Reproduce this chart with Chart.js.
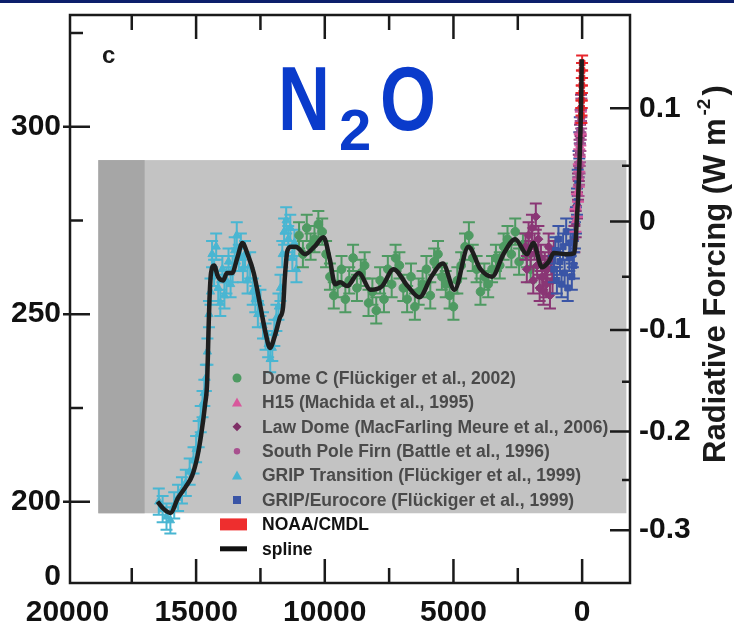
<!DOCTYPE html>
<html>
<head>
<meta charset="utf-8">
<script src="https://cdn.jsdelivr.net/npm/chart.js@4.4.0/dist/chart.umd.min.js"></script>
<style>
    html, body { margin: 0; padding: 0; background: #fff; }
    #wrap { width: 734px; height: 626px; }
</style>
</head>
<body>
<div id="wrap"><canvas id="n2oChart" width="734" height="626"></canvas></div>
<script>
// Years before present (x) and N2O in ppb (y)
const gripYears = [16450, 16300, 16150, 16000, 15850, 15700, 15550, 15400, 15250, 15100, 15000, 14900, 14820, 14750, 14680, 14620, 14560, 14500, 14440, 14380, 14300, 14220, 14140, 14060, 13980, 13900, 13820, 13740, 13660, 13580, 13500, 13420, 13340, 13260, 13180, 13100, 13000, 12900, 12800, 12700, 12600, 12500, 12400, 12300, 12200, 12120, 12040, 11960, 11880, 11800, 11720, 11650, 11580, 11500, 11420, 11340, 11260, 11180, 11100];
const gripPpb = [200, 198, 196, 195, 199, 201, 203, 205, 208, 211, 214, 218, 222, 226, 229, 233, 240, 250, 256, 266, 261, 268, 257, 253, 262, 255, 259, 264, 258, 262, 267, 271, 265, 268, 262, 266, 259, 263, 256, 254, 250, 253, 247, 244, 242, 238, 241, 245, 249, 252, 257, 266, 272, 275, 270, 273, 265, 269, 262];

const domeCYears = [11000, 10850, 10700, 10550, 10400, 10250, 10100, 9950, 9800, 9650, 9500, 9350, 9200, 9050, 8900, 8750, 8600, 8450, 8300, 8150, 8000, 7850, 7700, 7550, 7400, 7250, 7100, 6950, 6800, 6650, 6500, 6350, 6200, 6050, 5900, 5750, 5600, 5450, 5300, 5150, 5000, 4850, 4700, 4550, 4400, 4250, 4100, 3950, 3800, 3650, 3500, 3350, 3200, 3050, 2900, 2750, 2600, 2450, 2300, 2150, 2000];
const domeCPpb = [271, 266, 273, 268, 270, 274, 272, 266, 260, 255, 258, 262, 254, 259, 265, 257, 261, 263, 253, 256, 251, 259, 254, 262, 258, 265, 263, 257, 254, 260, 252, 256, 258, 262, 255, 264, 266, 260, 258, 255, 252, 259, 263, 268, 271, 265, 262, 256, 260, 258, 262, 265, 263, 268, 270, 266, 272, 264, 268, 266, 262];

const lawDomeYears = [2200, 2150, 2080, 2000, 1950, 1900, 1850, 1800, 1750, 1700, 1650, 1600, 1550, 1500, 1450, 1400, 1350, 1300, 1250, 1200, 1150, 1100, 300, 250, 200, 160, 130, 100, 80, 60, 45];
const lawDomePpb = [268, 262, 271, 266, 273, 259, 268, 276, 263, 270, 257, 265, 260, 256, 263, 258, 262, 268, 255, 264, 259, 266, 270, 274, 279, 284, 289, 293, 297, 301, 305];

const southPoleYears = [140, 120, 100, 85, 70, 55, 40, 30];
const southPolePpb = [284, 287, 290, 293, 296, 299, 302, 305];

const h15Years = [260, 200, 160, 130, 110, 90, 70, 50];
const h15Ppb = [275, 279, 283, 287, 291, 295, 298, 301];

const eurocoreYears = [1100, 1040, 980, 920, 860, 800, 740, 680, 620, 560, 500, 450, 400, 360, 320, 280, 240, 200, 170, 140, 110, 90];
const eurocorePpb = [262, 267, 259, 270, 264, 258, 268, 261, 272, 257, 265, 269, 260, 266, 263, 271, 275, 280, 285, 290, 295, 299];

const noaaYears = [28, 24, 20, 16, 12, 8, 4, 0];
const noaaPpb = [303, 305, 307, 309, 311, 313, 315, 317];

const splineYears = [16500, 16250, 16000, 15700, 15400, 15150, 14950, 14800, 14650, 14570, 14520, 14480, 14420, 14300, 14150, 13950, 13800, 13600, 13400, 13200, 13000, 12760, 12500, 12300, 12130, 11950, 11750, 11620, 11550, 11450, 11300, 11120, 10770, 10400, 10050, 9800, 9600, 9400, 9130, 8680, 8220, 7770, 7330, 6780, 6320, 5860, 5410, 4960, 4420, 3950, 3500, 3060, 2600, 2140, 1900, 1560, 1300, 1100, 600, 300, 250, 200, 150, 100, 60, 30, 15];
const splinePpb = [200, 198, 197, 201, 204, 207, 212, 218, 226, 232, 245, 254, 261, 263, 260, 259, 261, 261, 265, 269, 266, 261, 252, 245, 241, 244, 249, 252, 260, 267, 268, 268, 266, 268, 270.5, 264.5, 258, 258.5, 257.5, 261, 256.5, 257.5, 262, 257.5, 254.5, 260, 263.5, 256.5, 268, 262, 260, 266, 270, 266, 269, 262.5, 264, 266.3, 266, 266.3, 270, 276, 282, 291, 300, 310, 318];

// error bar half widths (ppb)
const gripErr = 3.5, domeCErr = 3.5, lawDomeErr = 3.5, southPoleErr = 2.5, h15Err = 3, eurocoreErr = 3.5, noaaErr = 2;

// axes
const xTicks = [20000, 15000, 10000, 5000, 0];
const xMinorTicks = [17500, 12500, 7500, 2500];
const ppbTicks = [180, 200, 250, 300];
const ppbTickLabels = ['0', '200', '250', '300'];
const ppbMinorTicks = [225, 275, 325];
const forcingLabels = ['0.1', '0', '-0.1', '-0.2', '-0.3'];
const forcingAtPpb = [304.9, 274.7, 245.8, 218.7, 192.4];
const forcingMinorAtPpb = [289.6, 260, 232, 205.8];

// shaded panel (years, ppb)
const shadeYears = [18800, 17000, -1720];
const shadePpb = [196.9, 291.1];

const FONT = "'Liberation Sans', Arial, sans-serif";
const zip = (xs, ys) => xs.map((x, i) => ({ x: x, y: ys[i] }));

const datasets = [
    { label: 'spline', type: 'line', data: zip(splineYears, splinePpb), borderColor: '#1e1e1e', borderWidth: 4.5,
      pointRadius: 0, cubicInterpolationMode: 'monotone', showLine: true },
    { label: 'NOAA/CMDL', data: zip(noaaYears, noaaPpb), backgroundColor: '#e8262c', borderColor: '#e8262c',
      pointStyle: 'rect', pointRadius: 4, errBar: noaaErr },
    { label: 'South Pole Firn', data: zip(southPoleYears, southPolePpb), backgroundColor: '#a8508f', borderColor: '#a8508f',
      pointStyle: 'circle', pointRadius: 3.5, errBar: southPoleErr },
    { label: 'H15', data: zip(h15Years, h15Ppb), backgroundColor: '#d8589c', borderColor: '#d8589c',
      pointStyle: 'triangle', pointRadius: 4.5, errBar: h15Err },
    { label: 'GRIP/Eurocore', data: zip(eurocoreYears, eurocorePpb), backgroundColor: '#3a55a6', borderColor: '#3a55a6',
      pointStyle: 'rect', pointRadius: 4.2, errBar: eurocoreErr },
    { label: 'Law Dome', data: zip(lawDomeYears, lawDomePpb), backgroundColor: '#8a3675', borderColor: '#8a3675',
      pointStyle: 'rectRot', pointRadius: 4.5, errBar: lawDomeErr },
    { label: 'Dome C', data: zip(domeCYears, domeCPpb), backgroundColor: '#4e9a62', borderColor: '#4e9a62',
      pointStyle: 'circle', pointRadius: 4.3, errBar: domeCErr },
    { label: 'GRIP Transition', data: zip(gripYears, gripPpb), backgroundColor: '#49b6d2', borderColor: '#49b6d2',
      pointStyle: 'triangle', pointRadius: 4.8, errBar: gripErr }
];

const legendRows = [
    { text: 'Dome C (Fl\u00fcckiger et al., 2002)', color: '#4e9a62', shape: 'circle', r: 4.5 },
    { text: 'H15 (Machida et al., 1995)', color: '#d8589c', shape: 'triangle', r: 5 },
    { text: 'Law Dome (MacFarling Meure et al., 2006)', color: '#7e2f66', shape: 'diamond', r: 4.5 },
    { text: 'South Pole Firn (Battle et al., 1996)', color: '#a8508f', shape: 'circle', r: 3.2 },
    { text: 'GRIP Transition (Fl\u00fcckiger et al., 1999)', color: '#49b6d2', shape: 'triangle', r: 5 },
    { text: 'GRIP/Eurocore (Fl\u00fcckiger et al., 1999)', color: '#3a55a6', shape: 'square', r: 4 },
    { text: 'NOAA/CMDL', color: '#ee2e2e', shape: 'bar' },
    { text: 'spline', color: '#111', shape: 'line' }
];

function drawMarker(ctx, m, x, y) {
    ctx.fillStyle = m.color;
    ctx.beginPath();
    if (m.shape === 'circle') {
        ctx.arc(x, y, m.r, 0, Math.PI * 2);
    } else if (m.shape === 'triangle') {
        ctx.moveTo(x, y - m.r); ctx.lineTo(x + m.r, y + m.r * 0.8); ctx.lineTo(x - m.r, y + m.r * 0.8);
    } else if (m.shape === 'diamond') {
        ctx.moveTo(x, y - m.r); ctx.lineTo(x + m.r, y); ctx.lineTo(x, y + m.r); ctx.lineTo(x - m.r, y);
    } else if (m.shape === 'square') {
        ctx.rect(x - m.r, y - m.r, m.r * 2, m.r * 2);
    } else if (m.shape === 'bar') {
        ctx.rect(x - 17, y - 6, 27, 12);
    } else if (m.shape === 'line') {
        ctx.rect(x - 17, y - 2.5, 27, 5);
    }
    ctx.closePath();
    ctx.fill();
}

const panelPlugin = {
    id: 'panel',
    beforeDraw(chart) {
        const ctx = chart.ctx;
        ctx.save();
        ctx.fillStyle = '#fff';
        ctx.fillRect(0, 0, chart.width, chart.height);
        ctx.fillStyle = '#0c1f6b';
        ctx.fillRect(0, 0, chart.width, 3);
        ctx.restore();
    },
    beforeDatasetsDraw(chart) {
        const { ctx, scales: { x, y } } = chart;
        const x0 = x.getPixelForValue(shadeYears[0]);
        const x1 = x.getPixelForValue(shadeYears[1]);
        const x2 = x.getPixelForValue(shadeYears[2]);
        const yT = y.getPixelForValue(shadePpb[1]);
        const yB = y.getPixelForValue(shadePpb[0]);
        ctx.save();
        ctx.fillStyle = '#c3c3c3';
        ctx.fillRect(x0, yT, x2 - x0, yB - yT);
        ctx.fillStyle = '#a6a6a6';
        ctx.fillRect(x0, yT, x1 - x0, yB - yT);
        ctx.restore();
    },
    beforeDatasetDraw(chart, args) {
        const ds = chart.data.datasets[args.index];
        if (!ds.errBar) return;
        const { ctx, scales: { y } } = chart;
        ctx.save();
        ctx.strokeStyle = ds.borderColor;
        ctx.lineWidth = 2;
        args.meta.data.forEach((pt, i) => {
            const v = ds.data[i].y;
            const yHi = y.getPixelForValue(v + ds.errBar);
            const yLo = y.getPixelForValue(v - ds.errBar);
            ctx.beginPath();
            ctx.moveTo(pt.x, yHi); ctx.lineTo(pt.x, yLo);
            ctx.moveTo(pt.x - 6, yHi); ctx.lineTo(pt.x + 6, yHi);
            ctx.moveTo(pt.x - 6, yLo); ctx.lineTo(pt.x + 6, yLo);
            ctx.stroke();
        });
        ctx.restore();
    },
    afterDatasetsDraw(chart) {
        const { ctx, chartArea: a, scales: { x, y } } = chart;
        ctx.save();

        // frame
        ctx.strokeStyle = '#1a1a1a';
        ctx.lineWidth = 2.5;
        ctx.strokeRect(a.left, a.top, a.right - a.left, a.bottom - a.top);

        // inward ticks
        ctx.beginPath();
        xTicks.concat(xMinorTicks).forEach(v => {
            if (v >= 20000) return;
            const px = x.getPixelForValue(v);
            const len = xTicks.includes(v) ? 24 : 15;
            ctx.moveTo(px, a.top); ctx.lineTo(px, a.top + len);
            ctx.moveTo(px, a.bottom); ctx.lineTo(px, a.bottom - len);
        });
        ppbTicks.slice(1).forEach(v => {
            const py = y.getPixelForValue(v);
            ctx.moveTo(a.left - 7, py); ctx.lineTo(a.left + 20, py);
        });
        ppbMinorTicks.forEach(v => {
            const py = y.getPixelForValue(v);
            ctx.moveTo(a.left, py); ctx.lineTo(a.left + 13, py);
        });
        forcingAtPpb.forEach(v => {
            const py = y.getPixelForValue(v);
            ctx.moveTo(a.right - 20, py); ctx.lineTo(a.right, py);
        });
        forcingMinorAtPpb.forEach(v => {
            const py = y.getPixelForValue(v);
            ctx.moveTo(a.right - 8, py); ctx.lineTo(a.right, py);
        });
        ctx.stroke();

        // panel letter
        ctx.fillStyle = '#1a1a1a';
        ctx.font = 'bold 24px ' + FONT;
        ctx.textBaseline = 'alphabetic';
        ctx.textAlign = 'left';
        ctx.fillText('c', 102, 63);

        // N2O title
        ctx.fillStyle = '#0a3bcb';
        ctx.save();
        ctx.translate(278, 130);
        ctx.scale(0.8, 1);
        ctx.font = 'bold 90px ' + FONT;
        ctx.fillText('N', 0, 0);
        ctx.restore();
        ctx.font = 'bold 58px ' + FONT;
        ctx.fillText('2', 339, 150);
        ctx.save();
        ctx.translate(380, 130);
        ctx.scale(0.8, 1);
        ctx.font = 'bold 90px ' + FONT;
        ctx.fillText('O', 0, 0);
        ctx.restore();

        // legend
        ctx.textBaseline = 'middle';
        legendRows.forEach((m, i) => {
            const ly = 378 + i * 24.4;
            drawMarker(ctx, m, 237, ly);
            ctx.fillStyle = i < 6 ? '#4a4a4a' : '#111';
            ctx.font = 'bold 17.5px ' + FONT;
            ctx.fillText(m.text, 262, ly + 1);
        });

        // right axis title
        ctx.save();
        ctx.translate(725, 463);
        ctx.rotate(-Math.PI / 2);
        ctx.fillStyle = '#1a1a1a';
        ctx.textBaseline = 'alphabetic';
        ctx.font = 'bold 31px ' + FONT;
        const main = 'Radiative Forcing (W m';
        const w = ctx.measureText(main).width;
        ctx.fillText(main, 0, 0);
        ctx.font = 'bold 19px ' + FONT;
        ctx.fillText('-2', w + 3, -15);
        const w2 = ctx.measureText('-2').width;
        ctx.font = 'bold 31px ' + FONT;
        ctx.fillText(')', w + w2 + 6, 0);
        ctx.restore();

        ctx.restore();
    }
};

const tickFont = { family: FONT, size: 30, weight: 'bold' };
const noGrid = { display: false, drawTicks: false };
const flatV = s => { s.paddingTop = 0; s.paddingBottom = 0; };

new Chart(document.getElementById('n2oChart'), {
    type: 'scatter',
    data: { datasets: datasets },
    options: {
        responsive: false,
        animation: false,
        layout: { padding: { top: 15, left: 0, right: 0, bottom: 0 } },
        plugins: { legend: { display: false }, tooltip: { enabled: false } },
        scales: {
            x: {
                type: 'linear', reverse: true, min: -1860, max: 19900,
                grid: noGrid, border: { display: false },
                afterBuildTicks: s => { s.ticks = xTicks.map(v => ({ value: v })); },
                afterFit: s => { s.height = 43; s.paddingLeft = 0; s.paddingRight = 0; },
                ticks: { font: tickFont, color: '#111', padding: 12, maxRotation: 0, autoSkip: false,
                         callback: v => String(v) }
            },
            y: {
                type: 'linear', position: 'left', min: 178.3, max: 329.8,
                grid: noGrid, border: { display: false },
                afterBuildTicks: s => { s.ticks = ppbTicks.map(v => ({ value: v })); },
                afterFit: s => { s.width = 70; flatV(s); },
                ticks: { font: tickFont, color: '#111', padding: 9, autoSkip: false,
                         callback: (v, i) => ppbTickLabels[i] }
            },
            y2: {
                type: 'linear', position: 'right', min: 178.3, max: 329.8,
                grid: noGrid, border: { display: false },
                afterBuildTicks: s => { s.ticks = forcingAtPpb.map(v => ({ value: v })); },
                afterFit: s => { s.width = 104; flatV(s); },
                ticks: { font: tickFont, color: '#111', padding: 9, autoSkip: false,
                         callback: (v, i) => forcingLabels[i] }
            }
        }
    },
    plugins: [panelPlugin]
});
</script>
</body>
</html>
